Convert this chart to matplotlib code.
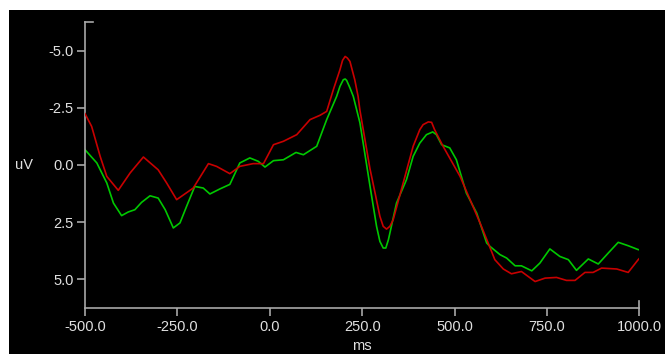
import matplotlib
matplotlib.use("Agg")
import matplotlib.pyplot as plt
from matplotlib.patches import Rectangle
from matplotlib.ticker import FixedLocator, FormatStrFormatter

red_ms = [-500, -482, -459, -441, -410, -378, -342, -302, -279, -252, -207, -166, -144, -108,
          -81, -45, -17, 10, 37, 73, 109, 136, 154, 172, 181, 190, 197, 204, 210, 217, 230, 239,
          244, 271, 285, 298, 307, 316, 325, 334,
          361, 388, 406, 415, 429, 438, 446, 469, 492, 515, 542, 569, 591, 609, 632, 654, 681, 718,
          745, 776, 803, 826, 853, 875, 898, 939, 970, 997, 1000]
red_uv = [-2.25, -1.69, -0.38, 0.50, 1.11, 0.35, -0.35, 0.21, 0.79, 1.52, 1.01, -0.06, 0.06, 0.38,
          0.06, -0.06, -0.06, -0.89, -1.04, -1.33, -1.99, -2.18, -2.35, -3.30, -3.74, -4.18, -4.59, -4.76, -4.69, -4.54, -3.74, -3.01,
          -2.40, 0.15, 1.23, 2.25, 2.69, 2.81, 2.69, 2.40,
          0.79, -0.82, -1.55, -1.77, -1.89, -1.87, -1.55, -0.82, -0.16, 0.50, 1.52, 2.54, 3.42, 4.15, 4.56, 4.77, 4.67, 5.11,
          4.96, 4.93, 5.06, 5.06, 4.71, 4.71, 4.52, 4.56, 4.71, 4.15, 4.10]

green_ms = [-500, -468, -441, -423, -401, -383, -365, -347, -324, -302, -283, -261, -243, -225,
            -203, -180, -162, -135, -108, -81, -54, -31, -13, 10, 37, 71, 91, 127, 154, 181,
            190, 199, 204, 208, 217, 226, 235, 244, 271, 289, 298, 307, 314, 321, 343, 370, 388,
            406, 424, 441, 451, 465, 487, 505, 532, 560,
            587, 596, 623, 641, 664, 681, 709, 731, 758, 785, 808, 830, 862, 889, 916, 943,
            970, 997, 1000]
green_uv = [-0.67, -0.09, 0.79, 1.67, 2.22, 2.06, 1.96, 1.64, 1.35, 1.45, 1.96, 2.76, 2.54, 1.81,
            0.94, 1.01, 1.27, 1.05, 0.85, -0.09, -0.31, -0.16, 0.09, -0.19, -0.23, -0.55, -0.45, -0.82, -1.99, -3.01,
            -3.45, -3.74, -3.77, -3.71, -3.38, -3.01, -2.43, -1.85, 0.90, 2.69, 3.35, 3.64, 3.64, 3.28, 1.67, 0.64, -0.38,
            -0.96, -1.33, -1.45, -1.33, -0.89, -0.75, -0.23, 1.23, 2.11,
            3.42, 3.57, 3.93, 4.08, 4.42, 4.42, 4.64, 4.30, 3.68, 4.01, 4.15, 4.62, 4.12, 4.34, 3.86, 3.39,
            3.54, 3.71, 3.72]

x_ticks = [-500, -250, 0, 250, 500, 750, 1000]
y_ticks = [-5.0, -2.5, 0.0, 2.5, 5.0]

W, H = 672, 354
plt.rcParams["font.family"] = ["Liberation Sans", "DejaVu Sans"]
fig = plt.figure(figsize=(W / 100, H / 100), dpi=100, facecolor="white")

# black panel
fig.patches.append(Rectangle((9 / W, 0), 656 / W, 344 / H, transform=fig.transFigure,
                             facecolor="black", edgecolor="none", zorder=-10))

left, right, top, bottom = 85, 639.3, 22, 308
ax = fig.add_axes([left / W, 1 - bottom / H, (right - left) / W, (bottom - top) / H])
ax.set_zorder(5)
ax.patch.set_alpha(0)

ax.plot(red_ms, red_uv, color="#c80000", lw=1.2, zorder=3)
ax.plot(green_ms, green_uv, color="#00c800", lw=1.2, zorder=2)

ax.set_xlim(-500, 1000)
ax.set_ylim(6.27, -6.27)

axis_col = "#a8a8a8"
text_col = "#e0e0e0"
for s in ["top", "right"]:
    ax.spines[s].set_visible(False)
for s in ["left", "bottom"]:
    ax.spines[s].set_color(axis_col)
    ax.spines[s].set_linewidth(1.2)

ax.xaxis.set_major_locator(FixedLocator(x_ticks))
ax.yaxis.set_major_locator(FixedLocator(y_ticks))
ax.xaxis.set_major_formatter(FormatStrFormatter("%.1f"))
ax.yaxis.set_major_formatter(FormatStrFormatter("%.1f"))
ax.tick_params(axis="both", colors=axis_col, labelcolor=text_col, labelsize=10.5,
               length=6, width=1.2, direction="out")
ax.tick_params(axis="y", pad=2)
ax.tick_params(axis="x", pad=2.5)

# end caps
ax.plot([0, 8 / (right - left)], [1, 1], transform=ax.transAxes, color=axis_col,
        lw=1.2, clip_on=False)
ax.plot([1, 1], [0, 7 / (bottom - top)], transform=ax.transAxes, color=axis_col,
        lw=1.2, clip_on=False)

fig.text(24 / W, 1 - 165 / H, "uV", color=text_col, fontsize=10.5, ha="center", va="center", zorder=6)
fig.text(362 / W, 1 - 346 / H, "ms", color=text_col, fontsize=10.5, ha="center", va="center", zorder=6)

fig.savefig("out.png", dpi=100, facecolor="white")
